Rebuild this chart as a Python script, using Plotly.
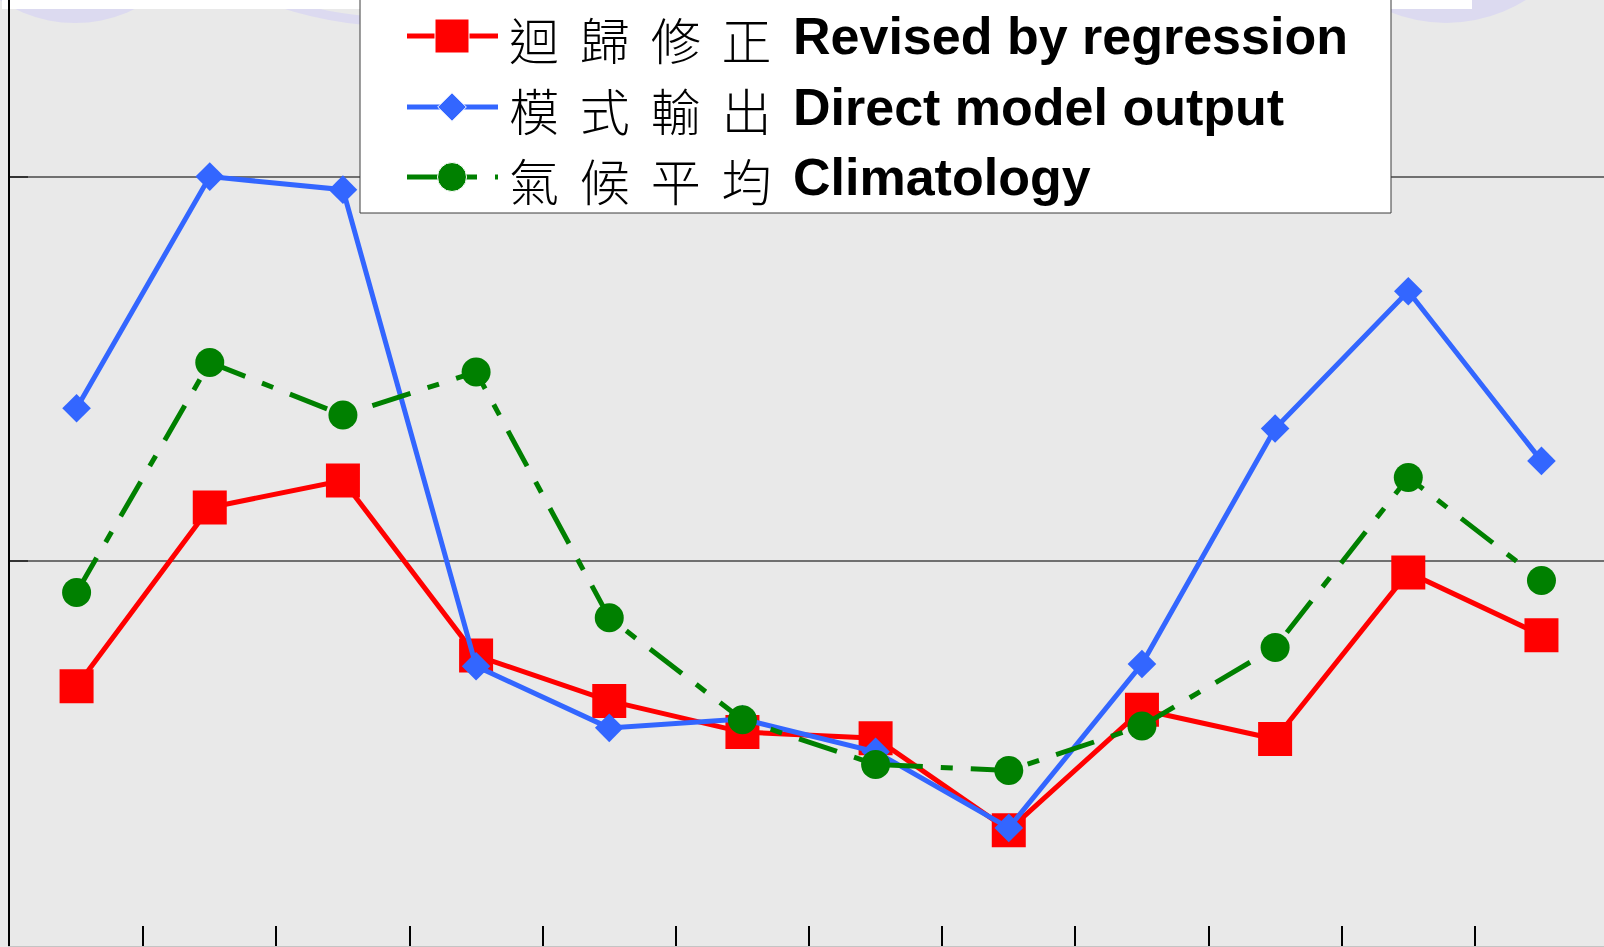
import plotly.graph_objects as go

# Monthly values for the three forecast series
months = list(range(1, 13))
revised = [0.675, 1.14, 1.21, 0.755, 0.637, 0.556, 0.54, 0.301, 0.614, 0.538, 0.971, 0.808]
direct = [1.398, 2.0, 1.966, 0.727, 0.567, 0.59, 0.505, 0.307, 0.733, 1.345, 1.702, 1.261]
climo = [0.919, 1.517, 1.38, 1.492, 0.853, 0.588, 0.472, 0.456, 0.572, 0.776, 1.218, 0.95]

SP = "\u2005\u2006"
names_zh = [SP.join("迴歸修正"), SP.join("模式輸出"), SP.join("氣候平均")]
names_en = ["Revised by regression", "Direct model output", "Climatology"]

W, H = 1604, 947
ML, MB = 10, 1
PW, PH = W - ML, H - MB
BAND = 133.17            # pixels per month
Y_TOP = 2.459

X_RANGE = [0.5, 0.5 + PW / BAND]
Y_RANGE = [0, Y_TOP]


def px_x(px):
    return X_RANGE[0] + (px - ML) / BAND


def px_y(py):
    return (PH - py) / PH * Y_TOP


def paper_x(px):
    return (px - ML) / PW


def paper_y(py):
    return (PH - py) / PH


RED = "#FF0000"
BLUE = "#3366FF"
GREEN = "#008000"
DASH = "40px,18px,12px,18px"

styles = [
    dict(color=RED, symbol="square", size=34, dash="solid"),
    dict(color=BLUE, symbol="diamond", size=22, dash="solid"),
    dict(color=GREEN, symbol="circle", size=29, dash=DASH),
]
series = [revised, direct, climo]

fig = go.Figure()

for vals, st in zip(series, styles):
    fig.add_trace(go.Scatter(
        x=months, y=vals, mode="lines+markers",
        line=dict(color=st["color"], width=5, dash=st["dash"]),
        marker=dict(color=st["color"], symbol=st["symbol"], size=st["size"], opacity=1),
        hoverinfo="skip", showlegend=False,
    ))

# Legend key: sample line with a marker in the middle
rows = [36, 107, 177]
for row, st in zip(rows, styles):
    fig.add_trace(go.Scatter(
        x=[px_x(407), px_x(452), px_x(498)], y=[px_y(row)] * 3,
        mode="lines+markers",
        line=dict(color=st["color"], width=5, dash=st["dash"]),
        marker=dict(color=st["color"], symbol=st["symbol"],
                    size=[0, st["size"], 0], opacity=1),
        hoverinfo="skip", showlegend=False,
    ))

shapes = []
LAV = "#dcdaf0"
# background ornaments along the top edge
shapes.append(dict(type="circle", xref="paper", yref="paper", layer="below",
                   x0=paper_x(75 - 135), x1=paper_x(75 + 135),
                   y0=paper_y(-112 - 135), y1=paper_y(-112 + 135),
                   fillcolor=LAV, line=dict(width=0)))
shapes.append(dict(type="circle", xref="paper", yref="paper", layer="below",
                   x0=paper_x(1446 - 150), x1=paper_x(1446 + 150),
                   y0=paper_y(-127 - 150), y1=paper_y(-127 + 150),
                   fillcolor=LAV, line=dict(width=0)))
shapes.append(dict(type="circle", xref="paper", yref="paper", layer="below",
                   x0=paper_x(400 - 384), x1=paper_x(400 + 384),
                   y0=paper_y(-362 - 384), y1=paper_y(-362 + 384),
                   line=dict(color=LAV, width=9)))
shapes.append(dict(type="rect", xref="paper", yref="paper", layer="below",
                   x0=paper_x(2), x1=paper_x(1472), y0=paper_y(9), y1=paper_y(-5),
                   fillcolor="white", line=dict(width=0)))
# legend box
shapes.append(dict(type="rect", xref="x", yref="y", layer="between",
                   x0=px_x(360), x1=px_x(1391), y0=px_y(213), y1=px_y(-20),
                   fillcolor="white", line=dict(color="#3c3c3c", width=1)))

annotations = []
for row, zh, en in zip(rows, names_zh, names_en):
    annotations.append(dict(
        xref="paper", yref="paper", x=paper_x(507), y=paper_y(row + 2),
        xanchor="left", yanchor="middle", showarrow=False, text=zh,
        font=dict(family="Noto Sans CJK TC", size=50, color="black", weight=300),
    ))
    annotations.append(dict(
        xref="paper", yref="paper", x=paper_x(791), y=paper_y(row),
        xanchor="left", yanchor="middle", showarrow=False, text=en,
        font=dict(family="Liberation Sans, Arial", size=52, color="black", weight="bold"),
    ))

fig.update_layout(
    width=W, height=H, autosize=False,
    margin=dict(l=ML, r=0, t=0, b=MB, pad=0),
    paper_bgcolor="#e9e9e9", plot_bgcolor="#e9e9e9",
    showlegend=False,
    shapes=shapes, annotations=annotations,
    xaxis=dict(
        range=X_RANGE, showgrid=False, zeroline=False, showticklabels=False,
        tickvals=[m + 0.5 for m in months[:-1]],
        ticks="inside", ticklen=20, tickwidth=1.5, tickcolor="black",
        showline=True, linecolor="#c4c4c4", linewidth=1,
    ),
    yaxis=dict(
        range=Y_RANGE, showgrid=True, gridcolor="#707070", gridwidth=1.5,
        zeroline=False, showticklabels=False, tickvals=[1, 2],
        ticks="inside", ticklen=18, tickwidth=2, tickcolor="#333333",
        showline=True, linecolor="black", linewidth=1.5,
    ),
)

fig.write_html("out.html")
